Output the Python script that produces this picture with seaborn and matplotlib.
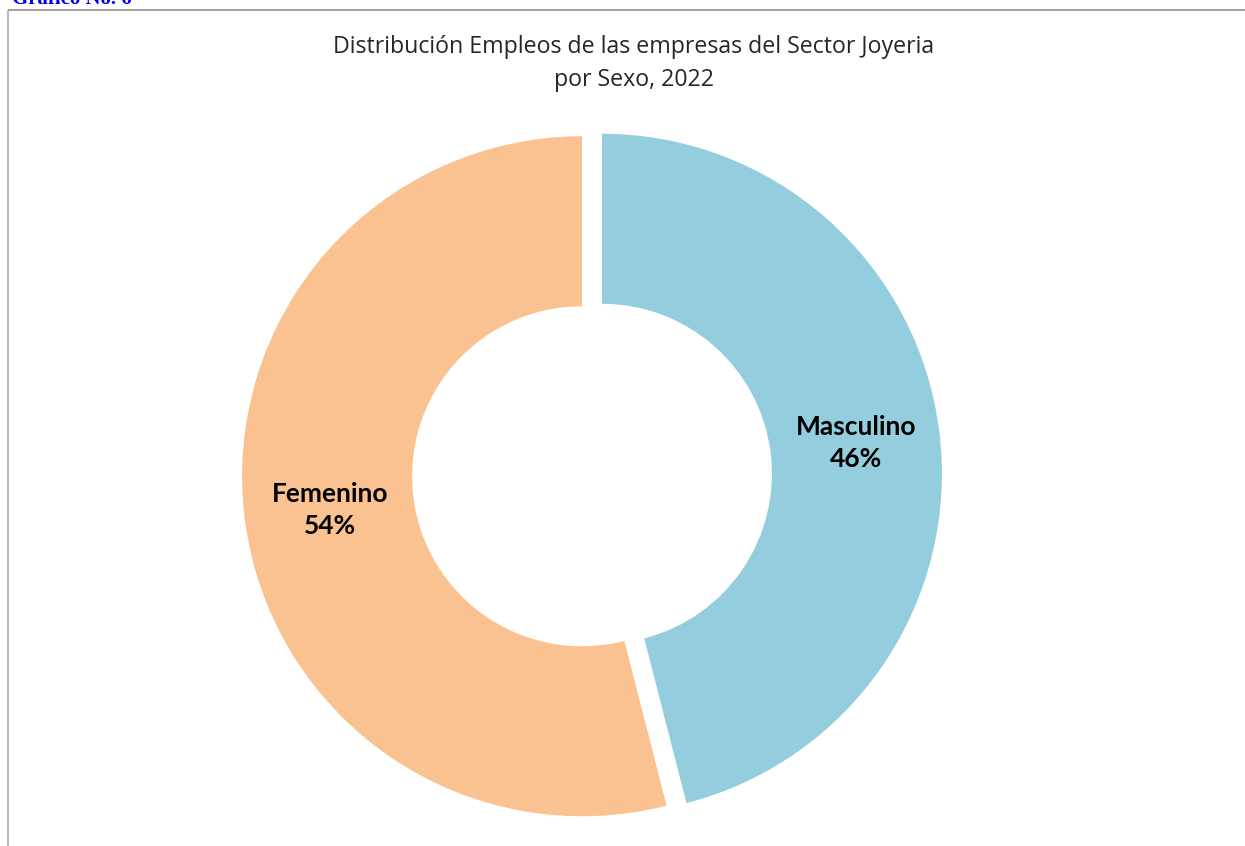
import matplotlib
matplotlib.use("Agg")
import matplotlib.pyplot as plt
import seaborn as sns

# data
categorias = ["Masculino", "Femenino"]
porcentajes = [46, 54]
colores = ["#94CDDE", "#FAC291"]
titulo = "Distribución Empleos de las empresas del Sector Joyeria\npor Sexo, 2022"

sns.set_theme(style="white")
plt.rcParams["font.family"] = ["Lato", "DejaVu Sans"]

fig = plt.figure(figsize=(12.45, 8.46), dpi=100)
ax = fig.add_axes([0, 0, 1, 1])

W, H = 1245, 846
cx, cy = 592, H - 475
R = 340

# explode va en unidades de datos (pixeles aqui)
wedges, _ = ax.pie(porcentajes, colors=colores, startangle=90, counterclock=False,
                   radius=R, center=(cx, cy), explode=[10, 10],
                   wedgeprops=dict(width=R * 0.5, linewidth=0))

ax.set_xlim(0, W)
ax.set_ylim(0, H)
ax.set_aspect("auto")
ax.axis("off")

# etiquetas
ax.text(856, H - 443, f"{categorias[0]}\n{porcentajes[0]}%", ha="center", va="center",
        fontsize=19, fontweight="bold", color="black", linespacing=1.38)
ax.text(330, H - 510, f"{categorias[1]}\n{porcentajes[1]}%", ha="center", va="center",
        fontsize=19, fontweight="bold", color="black", linespacing=1.38)

ax.text(634, H - 63, titulo, ha="center", va="center", fontsize=16.7,
        color="#262626", linespacing=1.5, family=["Open Sans", "DejaVu Sans"])

# marco y encabezado cortado
ax.plot([8, W], [H - 10, H - 10], color="#909090", lw=1.2, solid_capstyle="butt")
ax.plot([8, 8], [H - 10, 0], color="#B0B0B0", lw=1.2, solid_capstyle="butt")
ax.text(12, H + 1, "Gráfico No. 6", ha="left", va="center", fontsize=15,
        color="#0000EE", fontweight="bold", family=["Liberation Serif"], clip_on=False)

fig.savefig("out.png", dpi=100)
